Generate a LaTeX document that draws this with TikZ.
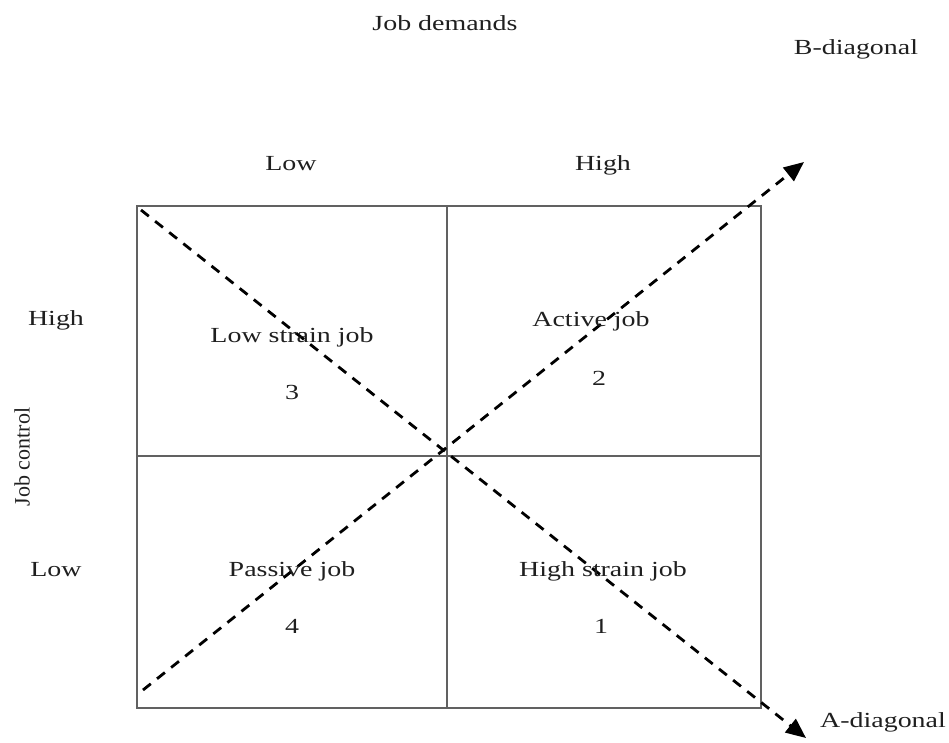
\documentclass[tikz,border=0pt]{standalone}
\usepackage{fontspec}
\setmainfont[FakeStretch=1.3]{Liberation Serif}
\newfontfamily\plainserif{Liberation Serif}
\usetikzlibrary{arrows.meta}
\begin{document}
\begin{tikzpicture}[x=1pt,y=-1pt,
  grid/.style={draw=black!62,line width=1.6pt},
  diag/.style={draw=black,line width=2.8pt,dash pattern=on 10pt off 8pt,-{Triangle[length=20pt,width=17pt]}},
  lbl/.style={font=\fontsize{21.5}{21.5}\selectfont,anchor=base,inner sep=0pt,text=black!88}]
\useasboundingbox (0,0) rectangle (949,742);
% grid
\draw[grid] (137,206) rectangle (761,708);
\draw[grid] (447,206) -- (447,708);
\draw[grid] (137,456) -- (761,456);
% diagonals
\coordinate (a0) at (141,210);
\coordinate (a1) at (806,738);
\coordinate (b0) at (143,690);
\coordinate (b1) at (804,162);
\draw[diag] (a0) -- (a1);
\draw[diag] (b0) -- (b1);
% labels
\node[lbl] (jd) at (445,30) {Job demands};
\node[lbl] (bd) at (856,54) {B-diagonal};
\node[lbl] (ad) at (883,727) {A-diagonal};
\node[lbl] (lo) at (291,170) {Low};
\node[lbl] (hi) at (603,170) {High};
\node[lbl] (hl) at (56,325) {High};
\node[lbl] (ll) at (56,576) {Low};
\node[font=\plainserif\fontsize{22}{22}\selectfont,rotate=90,inner sep=0pt,text=black!88] (jc) at (22,457) {Job control};
\node[lbl] (q3) at (292,342) {Low strain job};
\node[lbl] (n3) at (292,399) {3};
\node[lbl] (q2) at (591,326) {Active job};
\node[lbl] (n2) at (599,385) {2};
\node[lbl] (q4) at (292,576) {Passive job};
\node[lbl] (n4) at (292,633) {4};
\node[lbl] (q1) at (603,576) {High strain job};
\node[lbl] (n1) at (601,633) {1};
\end{tikzpicture}
\end{document}
